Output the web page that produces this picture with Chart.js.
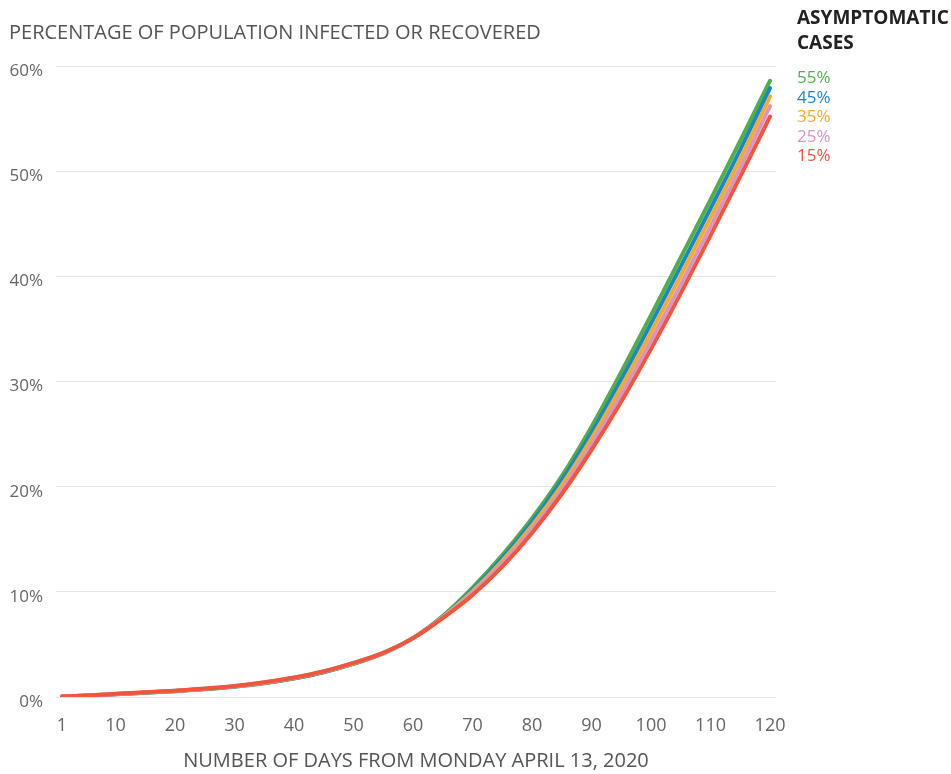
<!DOCTYPE html>
<html>
<head>
<meta charset="utf-8">
<script src="https://cdn.jsdelivr.net/npm/chart.js@4/dist/chart.umd.min.js"></script>
<style>
  body { margin: 0; background: #fff; font-family: "Open Sans", sans-serif; }
  #wrap { position: relative; width: 951px; height: 774px; }
  #title { position: absolute; left: 9px; top: 18px; font-size: 20px; color: #555; white-space: nowrap; }
  #legend { position: absolute; left: 797px; top: 5px; font-size: 17px; line-height: 19.5px; }
  #legend .head { font-size: 19px; font-weight: 700; color: #222; line-height: 25px; margin-bottom: 12px; }
</style>
</head>
<body>
<div id="wrap">
  <canvas id="chart" width="951" height="774"></canvas>
  <div id="title">PERCENTAGE OF POPULATION INFECTED OR RECOVERED</div>
  <div id="legend"><div class="head">ASYMPTOMATIC<br>CASES</div></div>
</div>
<script>
const days = [1, 5, 10, 15, 20, 25, 30, 35, 40, 45, 50, 55, 60, 65, 70, 75, 80, 85, 90, 95, 100, 105, 110, 115, 120];
const xTicks = [1, 10, 20, 30, 40, 50, 60, 70, 80, 90, 100, 110, 120];

const asym55 = [0.03, 0.12, 0.26, 0.4, 0.55, 0.73, 0.97, 1.3, 1.75, 2.35, 3.15, 4.15, 5.6, 7.7, 10.4, 13.5, 17.0, 21.0, 25.7, 30.9, 36.3, 41.8, 47.3, 52.9, 58.6];
const asym45 = [0.04, 0.13, 0.27, 0.41, 0.56, 0.75, 0.99, 1.32, 1.78, 2.38, 3.18, 4.17, 5.6, 7.65, 10.2, 13.2, 16.65, 20.6, 25.15, 30.2, 35.5, 40.95, 46.45, 52.05, 57.9];
const asym35 = [0.04, 0.14, 0.28, 0.42, 0.58, 0.77, 1.01, 1.35, 1.8, 2.41, 3.21, 4.18, 5.6, 7.6, 10.05, 12.95, 16.3, 20.15, 24.6, 29.5, 34.7, 40.1, 45.6, 51.2, 57.1];
const asym25 = [0.05, 0.14, 0.29, 0.44, 0.59, 0.78, 1.03, 1.37, 1.83, 2.43, 3.23, 4.19, 5.6, 7.55, 9.9, 12.7, 15.95, 19.7, 24.05, 28.8, 33.9, 39.25, 44.75, 50.35, 56.2];
const asym15 = [0.05, 0.15, 0.3, 0.45, 0.6, 0.8, 1.05, 1.4, 1.85, 2.45, 3.25, 4.2, 5.6, 7.5, 9.7, 12.4, 15.6, 19.3, 23.5, 28.1, 33.1, 38.4, 43.9, 49.5, 55.2];

const seriesNames = ['55%', '45%', '35%', '25%', '15%'];
const seriesData = [asym55, asym45, asym35, asym25, asym15];
const colors = ['#4fb04a', '#1b87c9', '#f7a928', '#d993c6', '#f0563c'];

// legend labels down the right side
const legend = document.getElementById('legend');
seriesNames.forEach((n, i) => {
    const d = document.createElement('div');
    d.textContent = n;
    d.style.color = colors[i];
    legend.appendChild(d);
});

const toPts = arr => arr.map((v, i) => ({ x: days[i], y: v }));

// red drawn on top, so reverse order into the datasets
const datasets = seriesData.map((arr, i) => ({
    label: seriesNames[i],
    data: toPts(arr),
    borderColor: colors[i],
    borderWidth: 4,
    pointRadius: 0,
    cubicInterpolationMode: 'monotone',
    borderCapStyle: 'round',
    fill: false
})).reverse();

const ctx = document.getElementById('chart').getContext('2d');
new Chart(ctx, {
    type: 'line',
    data: { datasets: datasets },
    options: {
        responsive: false,
        animation: false,
        layout: { padding: { top: 66, right: 175, left: 0, bottom: 0 } },
        plugins: { legend: { display: false }, tooltip: { enabled: false } },
        scales: {
            x: {
                type: 'linear',
                min: 0,
                max: 121,
                afterBuildTicks: s => { s.ticks = xTicks.map(v => ({ value: v })); },
                afterFit: s => { s.height = 77; },
                grid: { display: false },
                border: { display: false },
                ticks: { color: '#666', padding: 10, maxRotation: 0, autoSkip: false, font: { family: 'Open Sans', size: 18 } },
                title: {
                    display: true,
                    text: 'NUMBER OF DAYS FROM MONDAY APRIL 13, 2020',
                    color: '#555',
                    padding: { top: 0, bottom: 1 },
                    font: { family: 'Open Sans', size: 20 }
                }
            },
            y: {
                min: 0,
                max: 60,
                afterFit: s => { s.width = 56; },
                grid: { color: '#e6e6e6', lineWidth: 1, drawTicks: false },
                border: { display: false },
                ticks: {
                    stepSize: 10,
                    color: '#666',
                    padding: 13,
                    labelOffset: 5,
                    font: { family: 'Open Sans', size: 17 },
                    callback: v => v + '%'
                }
            }
        }
    }
});
</script>
</body>
</html>
